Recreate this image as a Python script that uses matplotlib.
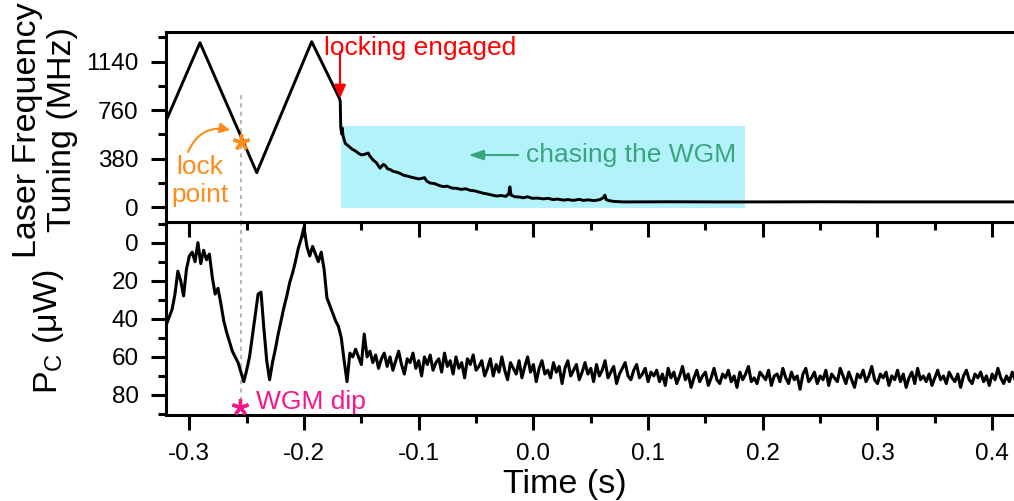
import numpy as np
import matplotlib
matplotlib.use("Agg")
import matplotlib.pyplot as plt
from matplotlib.ticker import MultipleLocator, FormatStrFormatter

plt.rcParams['font.family'] = ['Liberation Sans', 'DejaVu Sans']
plt.rcParams['mathtext.fontset'] = 'custom'
plt.rcParams['mathtext.rm'] = 'Liberation Sans'
plt.rcParams['mathtext.default'] = 'regular'
plt.rcParams['axes.unicode_minus'] = False

# laser frequency tuning (MHz) vs time (s)
tune_t = [-0.3206, -0.2907, -0.2412, -0.1933, -0.1691, -0.1684, -0.1680, -0.1672, -0.1666,
          -0.1660, -0.1650, -0.1640, -0.1610, -0.1580, -0.1550, -0.1520, -0.1500, -0.1470,
          -0.1440, -0.1425, -0.1400, -0.1370, -0.1337, -0.1310, -0.1294, -0.1270, -0.1250,
          -0.1220, -0.1190, -0.1163, -0.1130, -0.1100, -0.1076, -0.1040, -0.1000, -0.0974,
          -0.0950, -0.0930, -0.0901, -0.0860, -0.0820, -0.0786, -0.0750, -0.0710, -0.0669,
          -0.0630, -0.0590, -0.0553, -0.0510, -0.0470, -0.0437, -0.0400, -0.0360, -0.0320,
          -0.0280, -0.0240, -0.0215, -0.0205, -0.0195, -0.0160, -0.0120, -0.0088, -0.0050,
          -0.0010, 0.0030, 0.0086, 0.0130, 0.0170, 0.0210, 0.0261, 0.0300, 0.0350, 0.0400,
          0.0435, 0.0480, 0.0530, 0.0580, 0.0610, 0.0624, 0.0635, 0.0660, 0.0700, 0.0740,
          0.0784, 0.1200, 0.1600, 0.2000, 0.2500, 0.3000, 0.3500, 0.4000, 0.4300]
tune_mhz = [670, 1289, 271, 1297, 853, 830, 631, 575, 620,
            560, 530, 500, 478, 455, 440, 420, 410, 415,
            425, 400, 372, 350, 306, 335, 330, 300, 296,
            280, 275, 265, 250, 245, 238, 230, 222, 226,
            232, 205, 190, 185, 170, 162, 165, 150, 148,
            140, 145, 133, 128, 118, 110, 104, 95, 88,
            92, 85, 105, 160, 95, 82, 80, 74, 82,
            70, 72, 66, 70, 60, 64, 56, 60, 54, 62,
            54, 58, 52, 60, 75, 95, 60, 52, 46, 44,
            42, 43, 42, 42, 43, 42, 42, 42, 42]

# transmitted power P_C (uW), sampled every 2.5 ms from t = -0.32 s
pc_t0 = -0.32
pc_dt = 0.0025
pc_uw = [43, 39, 35, 27, 15, 20, 28, 14, 7, 5, 10, 0, 11, 4, 9, 6,
         18, 27, 24, 32, 41, 47, 52, 57, 60, 63, 68, 73, 67, 60, 49, 38,
         27, 26, 45, 62, 72, 63, 56, 48, 41, 34, 28, 21, 16, 10, 3, -2,
         -8, 2, 7, 2, 6, 10, 5, 14, 29, 33, 37, 41, 44, 50, 62, 73,
         58, 60, 56, 60, 64, 48, 60, 57, 63, 59, 66, 61, 58, 65, 60, 67,
         62, 57, 64, 69, 61, 63, 58, 66, 62, 70, 60, 64, 59, 67, 63, 61,
         68, 58, 65, 62, 69, 60, 66, 63, 71, 61, 64, 59, 67, 65, 62, 70,
         66, 61, 70, 64, 68, 60, 67, 72, 63, 66, 69, 62, 71, 65, 60, 68,
         64, 73, 66, 62, 69, 67, 71, 63, 68, 65, 74, 66, 62, 70, 67, 64,
         72, 68, 63, 69, 66, 73, 64, 70, 67, 62, 71, 68, 65, 74, 69, 66,
         63, 70, 72, 67, 64, 71, 69, 66, 73, 68, 70, 67, 73, 69, 75, 66,
         71, 68, 74, 70, 65, 72, 69, 76, 71, 67, 73, 70, 68, 75, 71, 66,
         72, 74, 69, 71, 67, 73, 70, 76, 68, 72, 69, 65, 73, 71, 74, 68,
         70, 72, 67, 75, 70, 69, 73, 66, 71, 74, 68, 72, 70, 77, 69, 66,
         73, 71, 68, 74, 70, 72, 67, 75, 69, 71, 73, 66, 70, 74, 68, 72,
         76, 69, 71, 67, 73, 70, 65, 72, 74, 69, 71, 68, 75, 70, 72, 67,
         73, 69, 76, 71, 68, 74, 66, 72, 70, 73, 69, 75, 71, 67, 72, 70,
         74, 68, 71, 73, 69, 76, 70, 67, 72, 74, 69, 71, 68, 73, 70, 75,
         69, 72, 66, 71, 74, 70, 73, 68, 72, 70]
pc_time = pc_t0 + pc_dt * np.arange(len(pc_uw))

# annotation anchors
lock_t, lock_mhz = -0.2552, 514
dip_t, dip_uw = -0.2558, 86.1
engage_t, engage_mhz = -0.1686, 853
chase_span = (-0.168, 0.1844)
chase_band = (-3, 637)

cyan = '#b2f3fb'
green = '#3aa57c'
orange = '#ff8c1a'
pink = '#f5168c'
grey = '#b8b8b8'

fig = plt.figure(figsize=(10.14, 5.01), dpi=100)
ax1 = fig.add_axes([0.1634, 0.5575, 0.8464, 0.3792])
ax2 = fig.add_axes([0.1634, 0.1717, 0.8464, 0.3858])
ax1.set_zorder(2)

xlim = (-0.3206, 0.4277)

# top panel
ax1.fill_between(chase_span, chase_band[0], chase_band[1], color=cyan, lw=0, zorder=0)
ax1.plot([lock_t, lock_t], [880, -200], ls=(0, (2, 2)), color=grey, lw=1.5, zorder=1)
ax1.plot(tune_t, tune_mhz, color='black', lw=2.1, zorder=3)
ax1.set_xlim(xlim)
ax1.set_ylim(-113, 1375)
ax1.yaxis.set_major_locator(MultipleLocator(380))
ax1.yaxis.set_minor_locator(MultipleLocator(190))
ax1.xaxis.set_major_locator(MultipleLocator(0.1))
ax1.xaxis.set_minor_locator(MultipleLocator(0.05))
ax1.tick_params(axis='both', which='both', direction='out', width=2.2, labelsize=17.5,
                top=False, right=False, labelbottom=False)
ax1.tick_params(which='major', length=11)
ax1.tick_params(which='minor', length=6)
ax1.tick_params(axis='y', pad=8.5)
ax1.spines['right'].set_visible(False)
for s in ['top', 'left', 'bottom']:
    ax1.spines[s].set_linewidth(2.2)

ax1.text(-0.1826, 1245, 'locking engaged', color='red', fontsize=19, ha='left', va='center')
ax1.annotate('', xy=(engage_t, engage_mhz), xytext=(engage_t, 1218),
             arrowprops=dict(arrowstyle='-|>,head_length=0.8,head_width=0.35',
                             color='red', lw=1.5, shrinkA=0, shrinkB=0))
ax1.annotate('', xy=(-0.0567, 409), xytext=(-0.0132, 409),
             arrowprops=dict(arrowstyle='-|>,head_length=0.9,head_width=0.3',
                             color=green, lw=1.5, shrinkA=0, shrinkB=0))
ax1.text(-0.0065, 409, 'chasing the WGM', color=green, fontsize=19, ha='left', va='center')
ax1.plot(lock_t, lock_mhz, marker=(5, 2, 0), ms=12, mew=2.4, color=orange, zorder=4)
ax1.text(-0.2907, 206, 'lock\npoint', color=orange, fontsize=19, ha='center', va='center')
ax1.annotate('', xy=(-0.2645, 605), xytext=(-0.3011, 433),
             arrowprops=dict(arrowstyle='-|>,head_length=0.6,head_width=0.3',
                             connectionstyle='arc3,rad=-0.4',
                             color=orange, lw=1.5, shrinkA=0, shrinkB=0))

# bottom panel
ax2.plot([lock_t, lock_t], [-20, 82], ls=(0, (2, 2)), color=grey, lw=1.5, zorder=1)
ax2.plot(pc_time, pc_uw, color='black', lw=2.2, zorder=3)
ax2.set_xlim(xlim)
ax2.set_ylim(90.5, -11)
ax2.yaxis.set_major_locator(MultipleLocator(20))
ax2.yaxis.set_minor_locator(MultipleLocator(10))
ax2.xaxis.set_major_locator(MultipleLocator(0.1))
ax2.xaxis.set_minor_locator(MultipleLocator(0.05))
ax2.tick_params(axis='both', which='both', direction='out', width=2.2, labelsize=17.5,
                top=False, right=False)
ax2.tick_params(which='major', length=11)
ax2.tick_params(which='minor', length=6)
ax2.tick_params(axis='y', pad=8.5)
ax2.tick_params(axis='x', pad=9.5)
ax2.xaxis.set_major_formatter(FormatStrFormatter('%.1f'))
ax2.spines['right'].set_visible(False)
for s in ['top', 'left', 'bottom']:
    ax2.spines[s].set_linewidth(2.2)

ax2.plot(dip_t, dip_uw, marker=(5, 2, 0), ms=12, mew=2.4, color=pink, zorder=4, clip_on=False)
ax2.text(-0.2417, 83.5, 'WGM dip', color=pink, fontsize=19, ha='left', va='center')

fig.text(45 / 1014, 1 - 130 / 501, 'Laser Frequency\nTuning (MHz)', rotation=90,
         ha='center', va='center', fontsize=24.5)
fig.text(48 / 1014, 1 - 332 / 501, 'P$_{C}$ (μW)', rotation=90,
         ha='center', va='center', fontsize=24.5)
fig.text(565 / 1014, 1 - 485 / 501, 'Time (s)', ha='center', va='center', fontsize=24.5)

fig.savefig('out.png', dpi=100)
